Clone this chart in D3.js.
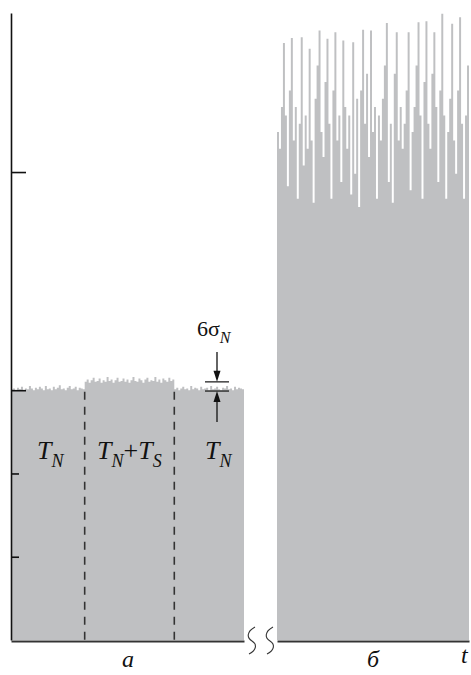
<!DOCTYPE html>
<html>
<head>
<meta charset="utf-8">
<script src="https://cdn.jsdelivr.net/npm/d3@7"></script>
<style>
  html, body { margin: 0; padding: 0; background: #fff; }
  svg { display: block; }
  text { font-family: "Liberation Serif", "DejaVu Serif", serif; fill: #111; }
</style>
</head>
<body>
<svg id="chart" width="471" height="675"></svg>
<script>
// ---------- data ----------
// panel (a): noise record, three segments  T_N | T_N+T_S | T_N
const segN1 = [3.01,3.02,3.00,3.03,3.01,3.04,3.00,3.02,3.01,3.05,3.02,3.00,3.03,3.01,3.04,3.02,3.00,3.05,3.01,3.02,3.00,3.04,3.01,3.03,3.06,3.01,3.02,3.00,3.03,3.05,3.01,3.02,3.04,3.00,3.03,3.02,3.01];
const segNS = [3.10,3.13,3.09,3.12,3.15,3.10,3.11,3.14,3.09,3.12,3.10,3.16,3.11,3.13,3.09,3.12,3.15,3.10,3.11,3.14,3.10,3.13,3.09,3.12,3.16,3.11,3.10,3.14,3.12,3.09,3.13,3.15,3.10,3.12,3.11,3.16,3.10,3.13,3.09,3.14,3.12,3.10,3.15,3.11,3.13];
const segN2 = [3.01,3.03,3.00,3.02,3.04,3.01,3.02,3.00,3.05,3.01,3.03,3.02,3.00,3.04,3.01,3.02,3.03,3.00,3.05,3.01,3.02,3.04,3.01,3.00,3.03,3.02,3.05,3.01,3.02,3.00,3.04,3.01,3.03,3.02,3.01];
// panel (б): strong noise record
const panelB = [6.1,5.9,6.4,7.17,6.3,5.45,6.6,7.23,6.0,6.4,5.3,6.2,7.24,5.7,6.3,5.9,7.1,6.0,5.25,6.5,6.9,7.32,6.1,5.8,6.7,7.22,6.2,5.3,6.6,7.3,6.0,6.3,5.5,7.2,6.4,5.9,6.3,5.35,7.18,5.6,6.5,5.2,6.6,7.33,6.2,6.8,5.8,7.32,6.1,6.4,5.3,6.3,6.0,6.5,6.9,7.41,5.5,6.2,5.25,6.8,7.3,6.0,6.4,5.9,6.2,6.6,7.3,5.4,6.1,6.4,6.9,7.42,6.3,5.3,6.7,7.43,6.2,5.9,6.8,7.3,6.4,5.5,6.6,7.52,6.3,5.3,6.1,6.5,7.4,6.0,5.6,6.6,7.48,6.2,5.3,6.3,6.9];
// axis ticks (no labels in the original)
const majorTicks = [3, 5.62];
const minorTicks = [1, 2];
// 6σ_N marker levels
const sigmaLevels = [2.99, 3.10];
// labels
const segLabels = [
  {main:"T", sub:"N"},
  {main:"T", sub:"N", plus:"T", sub2:"S"},
  {main:"T", sub:"N"}
];
const panelLabels = ["а", "б"];
const axisLabel = "t";

// ---------- layout ----------
const svg = d3.select("#chart");
const grey = "#bfc0c2";

const y = d3.scaleLinear().domain([0, 7.53]).range([640, 13]);

const leftData = segN1.concat(segNS, segN2);
const nL = leftData.length;
const xL = d3.scaleLinear().domain([0, nL]).range([11, 244]);
const nR = panelB.length;
const xR = d3.scaleLinear().domain([0, nR]).range([277, 469]);

function stepPoints(arr) {
  const pts = [];
  arr.forEach((v, i) => { pts.push([i, v]); pts.push([i + 1, v]); });
  return pts;
}
const areaL = d3.area().x(d => xL(d[0])).y0(y(0)).y1(d => y(d[1]));
const areaR = d3.area().x(d => xR(d[0])).y0(y(0)).y1(d => y(d[1]));

svg.append("path").attr("d", areaL(stepPoints(leftData))).attr("fill", grey);
svg.append("path").attr("d", areaR(stepPoints(panelB))).attr("fill", grey);

// dashed separators
const bounds = [segN1.length, segN1.length + segNS.length];
svg.selectAll("line.sep").data(bounds).enter().append("line")
  .attr("class", "sep")
  .attr("x1", d => xL(d)).attr("x2", d => xL(d))
  .attr("y1", y(2.98)).attr("y2", y(0))
  .attr("stroke", "#333").attr("stroke-width", 1.6)
  .attr("stroke-dasharray", "8,7");

// left axis (ticks pointing inward)
const axMajor = d3.axisRight(y).tickValues(majorTicks).tickSize(15).tickSizeOuter(0).tickFormat("");
const axMinor = d3.axisRight(y).tickValues(minorTicks).tickSize(8).tickSizeOuter(0).tickFormat("");
const gA = svg.append("g").attr("transform", "translate(11,0)").call(axMajor);
const gB = svg.append("g").attr("transform", "translate(11,0)").call(axMinor);
gB.select(".domain").remove();
[gA, gB].forEach(g => {
  g.selectAll("path,line").attr("stroke", "#111").attr("stroke-width", 1.6);
});

// bottom axis segments
const bottomY = 641;
const bx1 = d3.axisBottom(xL).tickValues([]).tickSizeOuter(0);
const bx2 = d3.axisBottom(xR).tickValues([]).tickSizeOuter(0);
svg.append("g").attr("transform", `translate(0,${bottomY})`).call(bx1)
  .selectAll("path").attr("stroke", "#333").attr("stroke-width", 1.8);
svg.append("g").attr("transform", `translate(0,${bottomY})`).call(bx2)
  .selectAll("path").attr("stroke", "#333").attr("stroke-width", 1.8);

// break symbols
[252, 270].forEach(cx => {
  svg.append("path")
    .attr("d", `M${cx+3},627 C${cx-6},632 ${cx-5},638 ${cx},641 C${cx+5},644 ${cx+5},650 ${cx-3},654`)
    .attr("fill", "none").attr("stroke", "#333").attr("stroke-width", 1.1);
});

// 6σ_N marker
const mx = 217;
sigmaLevels.forEach(v => {
  svg.append("line").attr("x1", mx - 12).attr("x2", mx + 12)
    .attr("y1", y(v)).attr("y2", y(v)).attr("stroke", "#111").attr("stroke-width", 1.2);
});
const yTop = y(sigmaLevels[1]), yBot = y(sigmaLevels[0]);
svg.append("line").attr("x1", mx).attr("x2", mx).attr("y1", 352).attr("y2", yTop - 6)
  .attr("stroke", "#111").attr("stroke-width", 1.3);
svg.append("path").attr("d", `M${mx},${yTop} L${mx-3.5},${yTop-11} L${mx+3.5},${yTop-11} Z`).attr("fill", "#111");
svg.append("line").attr("x1", mx).attr("x2", mx).attr("y1", yBot + 6).attr("y2", 422)
  .attr("stroke", "#111").attr("stroke-width", 1.3);
svg.append("path").attr("d", `M${mx},${yBot} L${mx-3.5},${yBot+11} L${mx+3.5},${yBot+11} Z`).attr("fill", "#111");

const sig = svg.append("text").attr("x", 197).attr("y", 336).attr("font-size", 22);
sig.append("tspan").text("6σ");
sig.append("tspan").attr("font-style", "italic").attr("font-size", 16).attr("dy", 7).text("N");

// segment labels
const labelX = [37, 97, 205];
segLabels.forEach((l, i) => {
  const t = svg.append("text").attr("x", labelX[i]).attr("y", 459)
    .attr("font-size", 26).attr("font-style", "italic");
  t.append("tspan").text(l.main);
  t.append("tspan").attr("font-size", 18).attr("dy", 8).text(l.sub);
  if (l.plus) {
    t.append("tspan").attr("dy", -8).attr("font-style", "normal").text("+");
    t.append("tspan").text(l.plus);
    t.append("tspan").attr("font-size", 18).attr("dy", 8).text(l.sub2);
  }
});

// panel labels
svg.append("text").attr("x", 128).attr("y", 667).attr("text-anchor", "middle")
  .attr("font-size", 24).attr("font-style", "italic").text(panelLabels[0]);
svg.append("text").attr("x", 373).attr("y", 667).attr("text-anchor", "middle")
  .attr("font-size", 24).attr("font-style", "italic").text(panelLabels[1]);
svg.append("text").attr("x", 461).attr("y", 663)
  .attr("font-size", 24).attr("font-style", "italic").text(axisLabel);
</script>
</body>
</html>
